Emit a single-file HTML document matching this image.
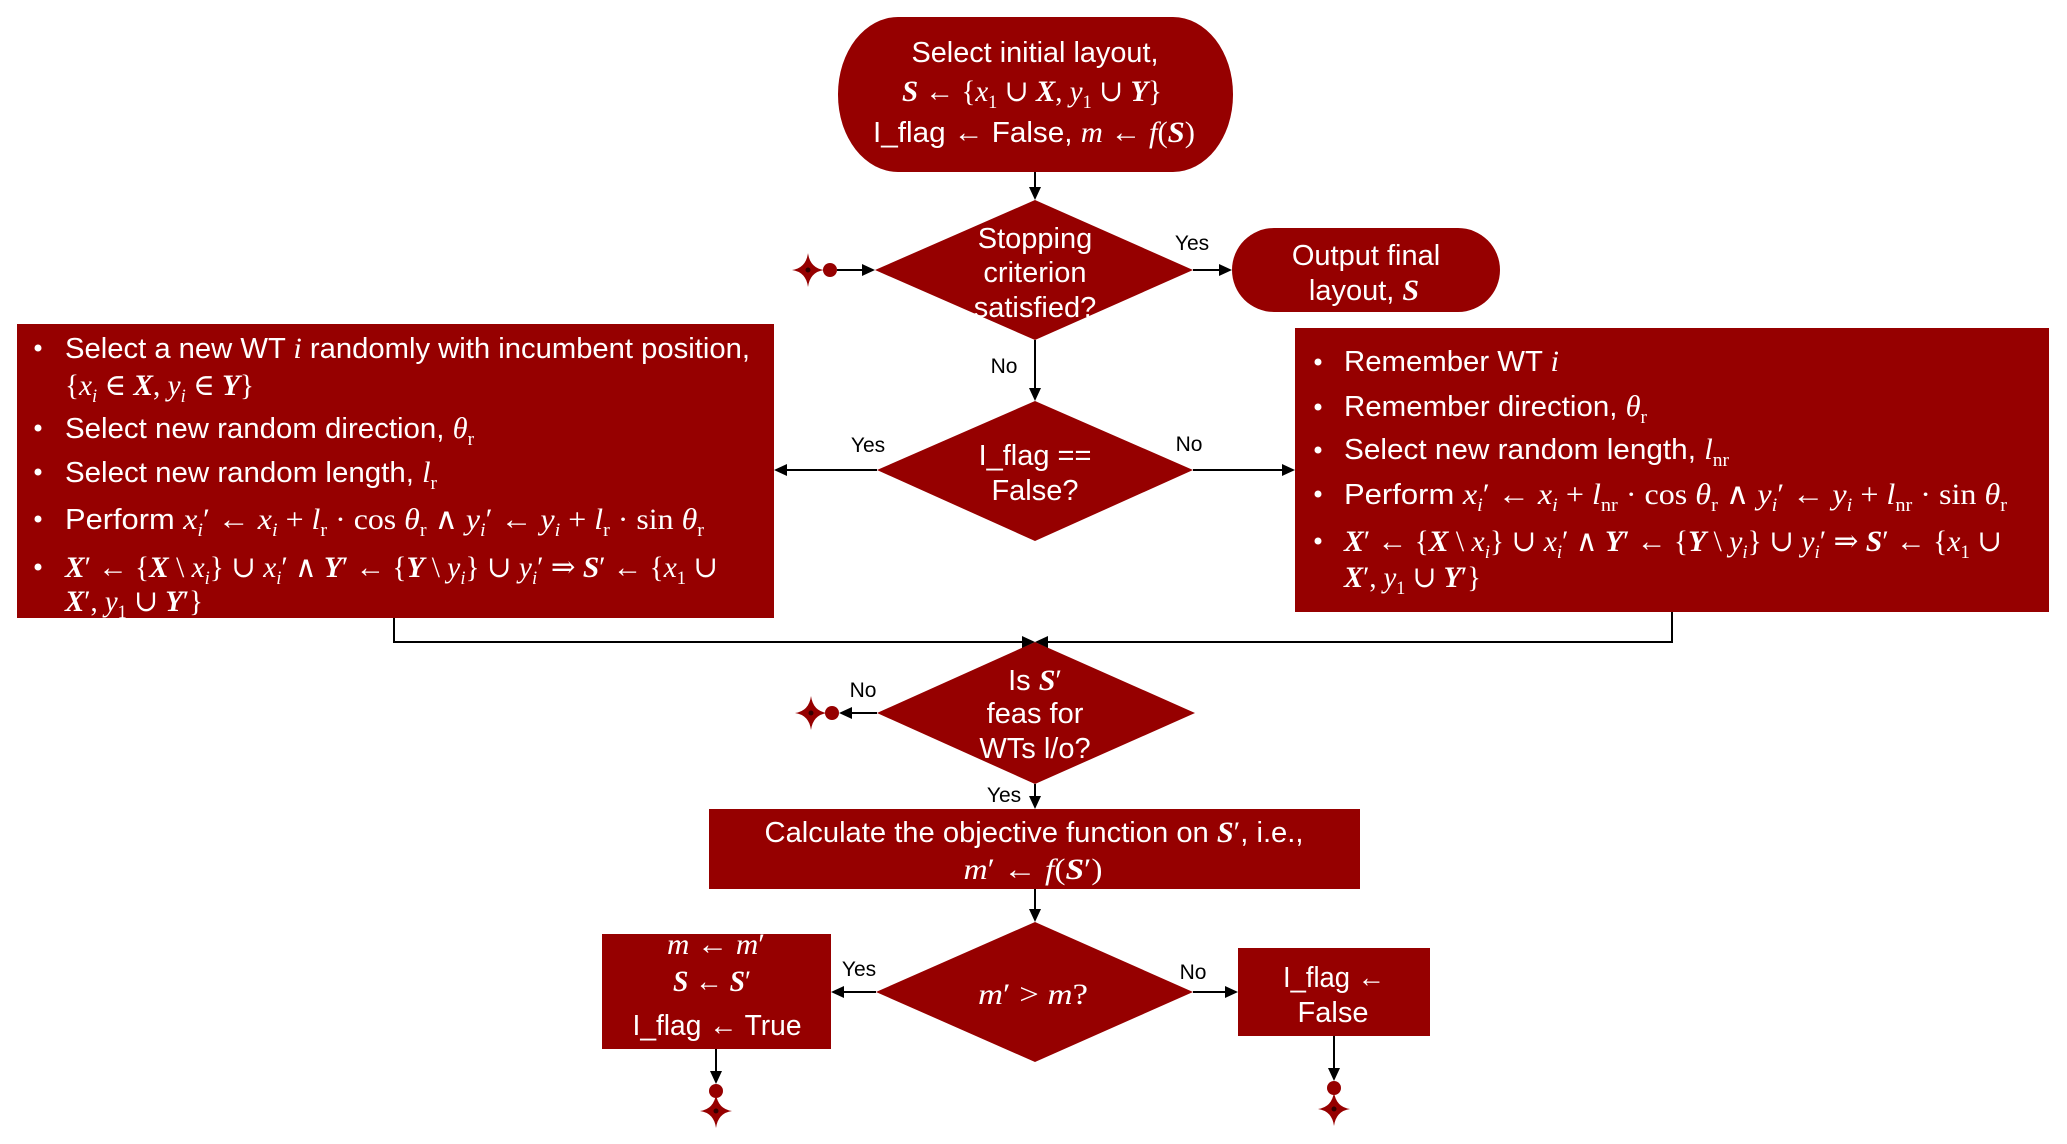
<!DOCTYPE html>
<html>
<head>
<meta charset="utf-8">
<style>
body{margin:0;background:#fff}
svg{display:block}
.t{font-family:"Liberation Sans",Arial,sans-serif;font-size:29px;fill:#fff}
.c{text-anchor:middle}
.mf{font-family:"Liberation Serif","DejaVu Serif",serif;font-size:30px}
.i{font-style:italic}
.bi{font-style:italic;font-weight:bold}
.sb{font-size:19px}
.lb{font-family:"Liberation Sans",Arial,sans-serif;font-size:21px;fill:#000;text-anchor:middle}
.sh{fill:#960000}
.ln{stroke:#000;stroke-width:2;fill:none}
.ah{fill:#000}
</style>
</head>
<body>
<svg width="2067" height="1144" viewBox="0 0 2067 1144" xmlns="http://www.w3.org/2000/svg">
<rect x="0" y="0" width="2067" height="1144" fill="#fff"/>

<!-- shapes -->
<rect class="sh" x="838" y="17" width="395" height="155" rx="60" ry="77"/>
<polygon class="sh" points="1035,200 1193,270 1035,340 875,270"/>
<rect class="sh" x="1232" y="228" width="268" height="84" rx="42" ry="42"/>
<polygon class="sh" points="1035,401 1193,470 1035,541 877,470"/>
<rect class="sh" x="17" y="324" width="757" height="294"/>
<rect class="sh" x="1295" y="328" width="754" height="284"/>
<polygon class="sh" points="1035,642 1195,713 1035,784 877,713"/>
<rect class="sh" x="709" y="809" width="651" height="80"/>
<polygon class="sh" points="1035,922 1193,992 1035,1062 876,992"/>
<rect class="sh" x="602" y="934" width="229" height="115"/>
<rect class="sh" x="1238" y="948" width="192" height="88"/>

<!-- connectors -->
<path class="ln" d="M1035 172V189"/><polygon class="ah" points="1035,200 1029,187 1041,187"/>
<path class="ln" d="M837 270H864"/><polygon class="ah" points="875,270 862,264 862,276"/>
<path class="ln" d="M1193 270H1221"/><polygon class="ah" points="1232,270 1219,264 1219,276"/>
<path class="ln" d="M1035 340V390"/><polygon class="ah" points="1035,401 1029,388 1041,388"/>
<path class="ln" d="M877 470H786"/><polygon class="ah" points="774,470 787,464 787,476"/>
<path class="ln" d="M1193 470H1283"/><polygon class="ah" points="1295,470 1282,464 1282,476"/>
<path class="ln" d="M394 618V642H1022"/><polygon class="ah" points="1035,642 1022,636 1022,648"/>
<path class="ln" d="M1672 612V642H1048"/><polygon class="ah" points="1035,642 1048,636 1048,648"/>
<path class="ln" d="M877 713H850"/><polygon class="ah" points="839,713 852,707 852,719"/>
<path class="ln" d="M1035 784V797"/><polygon class="ah" points="1035,809 1029,796 1041,796"/>
<path class="ln" d="M1035 889V910"/><polygon class="ah" points="1035,922 1029,909 1041,909"/>
<path class="ln" d="M876 992H843"/><polygon class="ah" points="831,992 844,986 844,998"/>
<path class="ln" d="M1193 992H1226"/><polygon class="ah" points="1238,992 1225,986 1225,998"/>
<path class="ln" d="M716 1049V1072"/><polygon class="ah" points="716,1084 710,1071 722,1071"/>
<path class="ln" d="M1334 1036V1069"/><polygon class="ah" points="1334,1081 1328,1068 1340,1068"/>

<!-- terminators: dots and stars -->
<circle class="sh" cx="830" cy="270" r="7"/>
<circle class="sh" cx="832" cy="713" r="7"/>
<circle class="sh" cx="716" cy="1091" r="7"/>
<circle class="sh" cx="1334" cy="1088" r="7"/>
<path class="sh" d="M792 270Q806 268 808 253Q810 268 824 270Q810 272 808 287Q806 272 792 270Z"/>
<path class="sh" d="M795 713Q809 711 811 696Q813 711 827 713Q813 715 811 730Q809 715 795 713Z"/>
<path class="sh" d="M700 1111Q714 1109 716 1094Q718 1109 732 1111Q718 1113 716 1128Q714 1113 700 1111Z"/>
<path class="sh" d="M1318 1109Q1332 1107 1334 1092Q1336 1107 1350 1109Q1336 1111 1334 1126Q1332 1111 1318 1109Z"/>
<circle cx="808" cy="270" r="2.5" fill="#300"/>
<circle cx="811" cy="713" r="2.5" fill="#300"/>
<circle cx="716" cy="1111" r="2.5" fill="#300"/>
<circle cx="1334" cy="1109" r="2.5" fill="#300"/>

<!-- top pill -->
<text class="t c" x="1035" y="62" textLength="247" lengthAdjust="spacingAndGlyphs">Select initial layout,</text>
<text class="t c" x="1032" y="101" textLength="260" lengthAdjust="spacingAndGlyphs"><tspan class="mf"><tspan class="bi">S</tspan> ← {<tspan class="i">x</tspan><tspan class="sb" dy="7">1</tspan><tspan dy="-7"> ∪ </tspan><tspan class="bi">X</tspan>, <tspan class="i">y</tspan><tspan class="sb" dy="7">1</tspan><tspan dy="-7"> ∪ </tspan><tspan class="bi">Y</tspan>}</tspan></text>
<text class="t c" x="1034" y="142" textLength="322" lengthAdjust="spacingAndGlyphs">I_flag ← False, <tspan class="mf"><tspan class="i">m</tspan> ← <tspan class="i">f</tspan>(<tspan class="bi">S</tspan>)</tspan></text>

<!-- diamond 1 -->
<text class="t c" x="1035" y="248">Stopping</text>
<text class="t c" x="1035" y="282">criterion</text>
<text class="t c" x="1035" y="317">satisfied?</text>

<!-- output pill -->
<text class="t c" x="1366" y="265">Output final</text>
<text class="t c" x="1364" y="300">layout, <tspan class="mf bi">S</tspan></text>

<!-- diamond 2 -->
<text class="t c" x="1035" y="465">I_flag ==</text>
<text class="t c" x="1035" y="500">False?</text>

<!-- left box -->
<circle cx="38" cy="348" r="3.5" fill="#fff"/>
<circle cx="38" cy="428" r="3.5" fill="#fff"/>
<circle cx="38" cy="472" r="3.5" fill="#fff"/>
<circle cx="38" cy="519" r="3.5" fill="#fff"/>
<circle cx="38" cy="567" r="3.5" fill="#fff"/>
<text class="t" x="65" y="358" textLength="685" lengthAdjust="spacingAndGlyphs">Select a new WT <tspan class="mf i">i</tspan> randomly with incumbent position,</text>
<text class="t" x="65" y="395" textLength="189" lengthAdjust="spacingAndGlyphs"><tspan class="mf">{<tspan class="i">x</tspan><tspan class="i sb" dy="7">i</tspan><tspan dy="-7"> ∈ </tspan><tspan class="bi">X</tspan>, <tspan class="i">y</tspan><tspan class="i sb" dy="7">i</tspan><tspan dy="-7"> ∈ </tspan><tspan class="bi">Y</tspan>}</tspan></text>
<text class="t" x="65" y="438" textLength="409" lengthAdjust="spacingAndGlyphs">Select new random direction, <tspan class="mf"><tspan class="i">θ</tspan><tspan class="sb" dy="7">r</tspan></tspan></text>
<text class="t" x="65" y="482" textLength="372" lengthAdjust="spacingAndGlyphs">Select new random length, <tspan class="mf"><tspan class="i">l</tspan><tspan class="sb" dy="7">r</tspan></tspan></text>
<text class="t" x="65" y="529" textLength="639" lengthAdjust="spacingAndGlyphs">Perform <tspan class="mf"><tspan class="i">x</tspan><tspan class="i sb" dy="7">i</tspan><tspan dy="-7">′ ← </tspan><tspan class="i">x</tspan><tspan class="i sb" dy="7">i</tspan><tspan dy="-7"> + </tspan><tspan class="i">l</tspan><tspan class="sb" dy="7">r</tspan><tspan dy="-7"> · cos </tspan><tspan class="i">θ</tspan><tspan class="sb" dy="7">r</tspan><tspan dy="-7"> ∧ </tspan><tspan class="i">y</tspan><tspan class="i sb" dy="7">i</tspan><tspan dy="-7">′ ← </tspan><tspan class="i">y</tspan><tspan class="i sb" dy="7">i</tspan><tspan dy="-7"> + </tspan><tspan class="i">l</tspan><tspan class="sb" dy="7">r</tspan><tspan dy="-7"> · sin </tspan><tspan class="i">θ</tspan><tspan class="sb" dy="7">r</tspan></tspan></text>
<text class="t" x="65" y="577" textLength="653" lengthAdjust="spacingAndGlyphs"><tspan class="mf"><tspan class="bi">X</tspan>′ ← {<tspan class="bi">X</tspan> \ <tspan class="i">x</tspan><tspan class="i sb" dy="7">i</tspan><tspan dy="-7">} ∪ </tspan><tspan class="i">x</tspan><tspan class="i sb" dy="7">i</tspan><tspan dy="-7">′ ∧ </tspan><tspan class="bi">Y</tspan>′ ← {<tspan class="bi">Y</tspan> \ <tspan class="i">y</tspan><tspan class="i sb" dy="7">i</tspan><tspan dy="-7">} ∪ </tspan><tspan class="i">y</tspan><tspan class="i sb" dy="7">i</tspan><tspan dy="-7">′ ⇒ </tspan><tspan class="bi">S</tspan>′ ← {<tspan class="i">x</tspan><tspan class="sb" dy="7">1</tspan><tspan dy="-7"> ∪</tspan></tspan></text>
<text class="t" x="65" y="611" textLength="138" lengthAdjust="spacingAndGlyphs"><tspan class="mf"><tspan class="bi">X</tspan>′, <tspan class="i">y</tspan><tspan class="sb" dy="7">1</tspan><tspan dy="-7"> ∪ </tspan><tspan class="bi">Y</tspan>′}</tspan></text>

<!-- right box -->
<circle cx="1318" cy="362" r="3.5" fill="#fff"/>
<circle cx="1318" cy="407" r="3.5" fill="#fff"/>
<circle cx="1318" cy="450" r="3.5" fill="#fff"/>
<circle cx="1318" cy="494" r="3.5" fill="#fff"/>
<circle cx="1318" cy="541" r="3.5" fill="#fff"/>
<text class="t" x="1344" y="371" textLength="215" lengthAdjust="spacingAndGlyphs">Remember WT <tspan class="mf i">i</tspan></text>
<text class="t" x="1344" y="416" textLength="303" lengthAdjust="spacingAndGlyphs">Remember direction, <tspan class="mf"><tspan class="i">θ</tspan><tspan class="sb" dy="7">r</tspan></tspan></text>
<text class="t" x="1344" y="459" textLength="385" lengthAdjust="spacingAndGlyphs">Select new random length, <tspan class="mf"><tspan class="i">l</tspan><tspan class="sb" dy="7">nr</tspan></tspan></text>
<text class="t" x="1344" y="504" textLength="663" lengthAdjust="spacingAndGlyphs">Perform <tspan class="mf"><tspan class="i">x</tspan><tspan class="i sb" dy="7">i</tspan><tspan dy="-7">′ ← </tspan><tspan class="i">x</tspan><tspan class="i sb" dy="7">i</tspan><tspan dy="-7"> + </tspan><tspan class="i">l</tspan><tspan class="sb" dy="7">nr</tspan><tspan dy="-7"> · cos </tspan><tspan class="i">θ</tspan><tspan class="sb" dy="7">r</tspan><tspan dy="-7"> ∧ </tspan><tspan class="i">y</tspan><tspan class="i sb" dy="7">i</tspan><tspan dy="-7">′ ← </tspan><tspan class="i">y</tspan><tspan class="i sb" dy="7">i</tspan><tspan dy="-7"> + </tspan><tspan class="i">l</tspan><tspan class="sb" dy="7">nr</tspan><tspan dy="-7"> · sin </tspan><tspan class="i">θ</tspan><tspan class="sb" dy="7">r</tspan></tspan></text>
<text class="t" x="1344" y="551" textLength="658" lengthAdjust="spacingAndGlyphs"><tspan class="mf"><tspan class="bi">X</tspan>′ ← {<tspan class="bi">X</tspan> \ <tspan class="i">x</tspan><tspan class="i sb" dy="7">i</tspan><tspan dy="-7">} ∪ </tspan><tspan class="i">x</tspan><tspan class="i sb" dy="7">i</tspan><tspan dy="-7">′ ∧ </tspan><tspan class="bi">Y</tspan>′ ← {<tspan class="bi">Y</tspan> \ <tspan class="i">y</tspan><tspan class="i sb" dy="7">i</tspan><tspan dy="-7">} ∪ </tspan><tspan class="i">y</tspan><tspan class="i sb" dy="7">i</tspan><tspan dy="-7">′ ⇒ </tspan><tspan class="bi">S</tspan>′ ← {<tspan class="i">x</tspan><tspan class="sb" dy="7">1</tspan><tspan dy="-7"> ∪</tspan></tspan></text>
<text class="t" x="1344" y="587" textLength="137" lengthAdjust="spacingAndGlyphs"><tspan class="mf"><tspan class="bi">X</tspan>′, <tspan class="i">y</tspan><tspan class="sb" dy="7">1</tspan><tspan dy="-7"> ∪ </tspan><tspan class="bi">Y</tspan>′}</tspan></text>

<!-- diamond 3 -->
<text class="t c" x="1035" y="690">Is <tspan class="mf bi">S</tspan><tspan class="mf">′</tspan></text>
<text class="t c" x="1035" y="723">feas for</text>
<text class="t c" x="1035" y="758">WTs l/o?</text>

<!-- calc box -->
<text class="t c" x="1034" y="842" textLength="539" lengthAdjust="spacingAndGlyphs">Calculate the objective function on <tspan class="mf"><tspan class="bi">S</tspan>′</tspan>, i.e.,</text>
<text class="t c" x="1033" y="879" textLength="139" lengthAdjust="spacingAndGlyphs"><tspan class="mf"><tspan class="i">m</tspan>′ ← <tspan class="i">f</tspan>(<tspan class="bi">S</tspan>′)</tspan></text>

<!-- diamond 4 -->
<text class="t c" x="1033" y="1004" textLength="110" lengthAdjust="spacingAndGlyphs"><tspan class="mf"><tspan class="i">m</tspan>′ &gt; <tspan class="i">m</tspan>?</tspan></text>

<!-- left bottom box -->
<text class="t c" x="716" y="954" textLength="98" lengthAdjust="spacingAndGlyphs"><tspan class="mf"><tspan class="i">m</tspan> ← <tspan class="i">m</tspan>′</tspan></text>
<text class="t c" x="712" y="991" textLength="78" lengthAdjust="spacingAndGlyphs"><tspan class="mf"><tspan class="bi">S</tspan> ← <tspan class="bi">S</tspan>′</tspan></text>
<text class="t c" x="717" y="1035" textLength="169" lengthAdjust="spacingAndGlyphs">I_flag ← True</text>

<!-- right bottom box -->
<text class="t c" x="1334" y="987" textLength="102" lengthAdjust="spacingAndGlyphs">I_flag ←</text>
<text class="t c" x="1333" y="1022">False</text>

<!-- connector labels -->
<text class="lb" x="1192" y="250">Yes</text>
<text class="lb" x="1004" y="373">No</text>
<text class="lb" x="868" y="452">Yes</text>
<text class="lb" x="1189" y="451">No</text>
<text class="lb" x="863" y="697">No</text>
<text class="lb" x="1004" y="802">Yes</text>
<text class="lb" x="859" y="976">Yes</text>
<text class="lb" x="1193" y="979">No</text>
</svg>
</body>
</html>
